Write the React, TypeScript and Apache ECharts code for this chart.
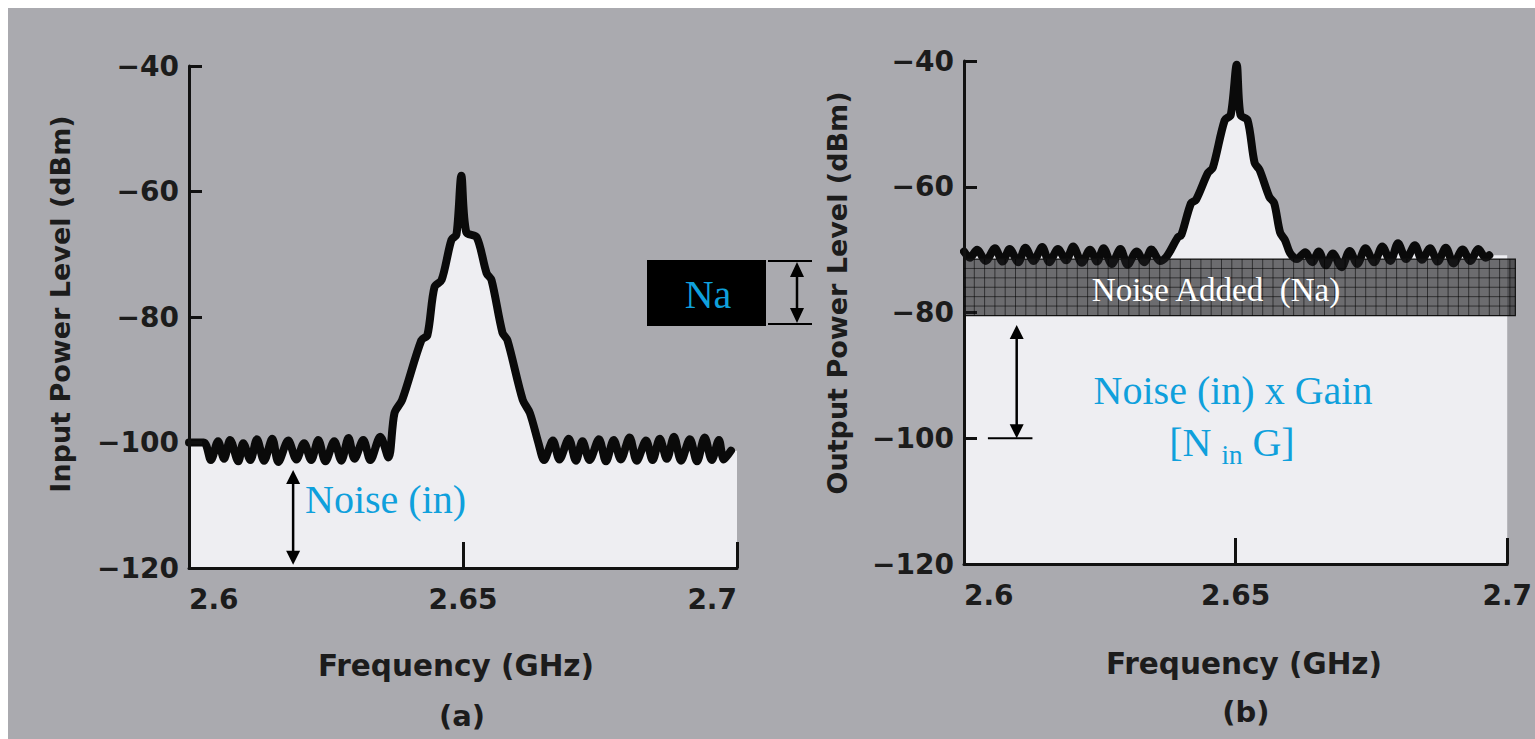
import React, { useEffect, useRef } from "react";
import * as echarts from "echarts";

// ---------- data ----------
const xTickLabels = ["2.6", "2.65", "2.7"];
const yTickLabels = ["\u2212120", "\u2212100", "\u221280", "\u221260", "\u221240"];

// (a) input spectrum: frequency (GHz) / power (dBm)
const inputFreq = [
  2.6, 2.6027, 2.604, 2.6053, 2.6064, 2.6075, 2.609, 2.6099, 2.6112, 2.6124,
  2.6137, 2.6152, 2.6163, 2.6181, 2.6196, 2.621, 2.6223, 2.6236, 2.6249, 2.6265,
  2.6278, 2.6291, 2.6302, 2.6318, 2.6331, 2.6349, 2.6364, 2.6375, 2.6389, 2.6424,
  2.6435, 2.6448, 2.6461, 2.6479, 2.6488, 2.6497, 2.6506, 2.6525, 2.6543, 2.6552,
  2.6572, 2.6581, 2.6609, 2.6622, 2.6638, 2.6648, 2.6664, 2.6676, 2.6693, 2.6706,
  2.6718, 2.6731, 2.6748, 2.6761, 2.6775, 2.6788, 2.6804, 2.6817, 2.6834, 2.6846,
  2.6859, 2.6872, 2.6885, 2.6898, 2.6914, 2.6927, 2.6941, 2.6954, 2.6967, 2.6976,
  2.6989,
];
const inputPower = [
  -100, -100, -102.8, -99.8, -102.6, -99.6, -103, -100.1, -102.8, -99.5,
  -102.9, -99.4, -103.1, -99.7, -102.7, -100.1, -102.8, -99.6, -103, -99.8,
  -102.9, -99.3, -102.6, -99.6, -102.8, -99.1, -102.4, -95.3, -93.2, -83.7,
  -82.9, -75.2, -74.1, -67.7, -66.9, -57.5, -66.5, -67.3, -73, -74.1,
  -82.5, -83.7, -93.2, -95.3, -100.2, -102.8, -99.7, -102.7, -99.4, -102.9,
  -99.8, -102.8, -99.5, -103, -99.6, -102.7, -99.2, -102.9, -99.7, -102.8,
  -99.4, -102.6, -99.1, -102.9, -99.5, -103, -99.2, -102.8, -99.6, -102.7,
  -101.3,
];

// (b) output spectrum
const outputFreq = [
  2.6, 2.6011, 2.6024, 2.604, 2.6057, 2.6071, 2.6084, 2.61, 2.6113, 2.6128,
  2.6144, 2.6157, 2.6173, 2.6188, 2.6201, 2.6217, 2.6232, 2.6245, 2.6257, 2.6272,
  2.6288, 2.6301, 2.6318, 2.6332, 2.6345, 2.6361, 2.6372, 2.6381, 2.6394, 2.64,
  2.6418, 2.6427, 2.6449, 2.6458, 2.648, 2.6491, 2.6502, 2.6509, 2.6522, 2.6535,
  2.6544, 2.6562, 2.6571, 2.6582, 2.6591, 2.66, 2.6613, 2.6628, 2.6641, 2.6653,
  2.6666, 2.6679, 2.6695, 2.671, 2.6724, 2.6739, 2.6755, 2.677, 2.6785, 2.6799,
  2.6814, 2.683, 2.6843, 2.6858, 2.6872, 2.6887, 2.6901, 2.6918, 2.6932, 2.6947,
  2.696, 2.6967,
];
const outputPower = [
  -70.3, -71.3, -70, -71.8, -69.8, -71.9, -69.9, -72, -69.7, -71.8,
  -69.6, -72, -69.9, -71.7, -69.5, -72.1, -70, -71.9, -69.8, -72.3,
  -69.9, -72.4, -70.3, -72, -70, -71.8, -71.2, -70, -68, -67.7,
  -62.6, -62.1, -57.8, -57, -49.4, -48.6, -40.6, -48.6, -49.4, -56.2,
  -57.3, -61.6, -62.6, -67.3, -68.5, -70.5, -71.5, -70.4, -72, -70.3,
  -72.5, -70.6, -72.8, -70.2, -72.3, -69.8, -72, -69.5, -71.8, -69,
  -71.5, -69.3, -71.6, -69.8, -71.9, -69.7, -72.2, -70, -71.8, -69.9,
  -71.3, -70.9,
];

// annotation anchors (data units)
const naBandPower = [-80.5, -71.5];
const naBandFreq = [2.6, 2.7015];
const noiseInArrow = { freq: 2.619, top: -104.4, bottom: -119.5 };
const gainArrow = { freq: 2.6097, top: -82, bottom: -100 };
const gainBaseLine = { from: 2.6044, to: 2.6126, level: -100 };

const BG = "#aaaaaf";
const FILL = "#eeeef2";
const BLUE = "#0fa0dc";
const INK = "#1c1c1c";

export default function App() {
  const ref = useRef<HTMLDivElement>(null);

  useEffect(() => {
    const chart = echarts.init(ref.current!, null, { renderer: "svg" });

    const inData = inputFreq.map((f, i) => [f, inputPower[i]]);
    const outData = outputFreq.map((f, i) => [f, outputPower[i]]);
    const inFill = [...inData, [2.7, inputPower[inputPower.length - 1]]];
    const outFill = [...outData, [2.7, outputPower[outputPower.length - 1]]];

    const xAxis = (gridIndex: number, alignMax: string) => ({
      type: "value",
      gridIndex,
      min: 2.6,
      max: 2.7,
      interval: 0.05,
      z: 5,
      axisLine: { show: true, onZero: false, lineStyle: { color: "#111", width: 3 } },
      axisTick: { show: true, inside: true, length: 26, lineStyle: { color: "#111", width: 3 } },
      axisLabel: {
        fontFamily: "DejaVu Sans",
        fontWeight: "bold",
        fontSize: 28,
        color: INK,
        margin: 17,
        alignMinLabel: "left",
        alignMaxLabel: alignMax,
        formatter: (_v: number, i: number) => xTickLabels[i],
      },
      splitLine: { show: false },
    });
    const yAxis = (gridIndex: number) => ({
      type: "value",
      gridIndex,
      min: -120,
      max: -40,
      interval: 20,
      z: 5,
      axisLine: { show: true, onZero: false, lineStyle: { color: "#111", width: 3 } },
      axisTick: { show: true, inside: true, length: 13, lineStyle: { color: "#111", width: 3 } },
      axisLabel: {
        fontFamily: "DejaVu Sans",
        fontWeight: "bold",
        fontSize: 28,
        color: INK,
        margin: 10,
        formatter: (_v: number, i: number) => yTickLabels[i],
      },
      splitLine: { show: false },
    });

    const fillSeries = (idx: number, data: number[][]) => ({
      type: "line",
      xAxisIndex: idx,
      yAxisIndex: idx,
      data,
      smooth: 0.3,
      showSymbol: false,
      silent: true,
      lineStyle: { width: 0, opacity: 0 },
      areaStyle: { color: FILL, opacity: 1, origin: "start" },
      z: 1,
    });
    const lineSeries = (idx: number, name: string, data: number[][]) => ({
      type: "line",
      name,
      xAxisIndex: idx,
      yAxisIndex: idx,
      data,
      smooth: 0.3,
      showSymbol: false,
      lineStyle: { color: "#0a0a0a", width: 8, join: "round", cap: "round" },
      z: 3,
    });

    chart.setOption({
      animation: false,
      backgroundColor: BG,
      grid: [
        { left: 181, top: 58, width: 548, height: 502 },
        { left: 956, top: 53, width: 548, height: 503 },
      ],
      xAxis: [xAxis(0, "right"), xAxis(1, "center")],
      yAxis: [yAxis(0), yAxis(1)],
      series: [
        fillSeries(0, inFill),
        lineSeries(0, "Input", inData),
        fillSeries(1, outFill),
        lineSeries(1, "Output", outData),
      ],
    });

    const px = (g: number, f: number, v: number) =>
      chart.convertToPixel({ gridIndex: g } as any, [f, v]) as number[];

    const vArrow = (x: number, yTop: number, yBot: number, head = 14, hw = 7, lw = 2.5) => [
      { type: "line", z: 110, shape: { x1: x, y1: yTop + head - 2, x2: x, y2: yBot - head + 2 }, style: { stroke: "#000", lineWidth: lw } },
      { type: "polygon", z: 110, shape: { points: [[x, yTop], [x - hw, yTop + head], [x + hw, yTop + head]] }, style: { fill: "#000" } },
      { type: "polygon", z: 110, shape: { points: [[x, yBot], [x - hw, yBot - head], [x + hw, yBot - head]] }, style: { fill: "#000" } },
    ];

    // Noise added band
    const b0 = px(1, naBandFreq[0], naBandPower[1]);
    const b1 = px(1, naBandFreq[1], naBandPower[0]);
    const bx = b0[0], by = b0[1], bw = b1[0] - b0[0], bh = b1[1] - b0[1];
    const bandEls: any[] = [
      { type: "rect", z: 100, shape: { x: bx, y: by, width: bw, height: bh }, style: { fill: "rgba(28,28,30,0.62)", stroke: "#111", lineWidth: 1.2 } },
    ];
    for (let gx = bx + 10.3; gx < bx + bw - 2; gx += 10.3) {
      bandEls.push({ type: "line", z: 101, shape: { x1: gx, y1: by, x2: gx, y2: by + bh }, style: { stroke: "rgba(0,0,0,0.55)", lineWidth: 1 } });
    }
    for (let gy = by + 9.4; gy < by + bh - 2; gy += 9.4) {
      bandEls.push({ type: "line", z: 101, shape: { x1: bx, y1: gy, x2: bx + bw, y2: gy }, style: { stroke: "rgba(0,0,0,0.55)", lineWidth: 1 } });
    }
    bandEls.push({
      type: "text", z: 102, x: 1208, y: by + bh / 2 + 3,
      style: { text: "Noise Added  (Na)", fontFamily: "Liberation Serif", fontSize: 33, fill: "#ffffff", align: "center", verticalAlign: "middle" },
    });

    const a1t = px(0, noiseInArrow.freq, noiseInArrow.top);
    const a1b = px(0, noiseInArrow.freq, noiseInArrow.bottom);
    const a2t = px(1, gainArrow.freq, gainArrow.top);
    const a2b = px(1, gainArrow.freq, gainArrow.bottom);
    const l0 = px(1, gainBaseLine.from, gainBaseLine.level);
    const l1 = px(1, gainBaseLine.to, gainBaseLine.level);

    const titleStyle = { fontFamily: "DejaVu Sans", fontWeight: "bold", fill: INK, align: "center", verticalAlign: "middle" };

    chart.setOption({
      graphic: [
        ...bandEls,
        ...vArrow(a1t[0], a1t[1], a1b[1]),
        ...vArrow(a2t[0], a2t[1], a2b[1]),
        { type: "line", z: 110, shape: { x1: l0[0], y1: l0[1], x2: l1[0], y2: l1[1] }, style: { stroke: "#000", lineWidth: 2 } },
        // Na key box
        { type: "rect", z: 110, shape: { x: 639, y: 252, width: 119, height: 66 }, style: { fill: "#000" } },
        { type: "text", z: 111, x: 700, y: 286, style: { text: "Na", fontFamily: "Liberation Serif", fontSize: 40, fill: BLUE, align: "center", verticalAlign: "middle" } },
        { type: "line", z: 110, shape: { x1: 760, y1: 253, x2: 804, y2: 253 }, style: { stroke: "#000", lineWidth: 2 } },
        { type: "line", z: 110, shape: { x1: 760, y1: 316, x2: 804, y2: 316 }, style: { stroke: "#000", lineWidth: 2 } },
        ...vArrow(789, 254, 315, 15, 7, 2.5),
        // annotations
        { type: "text", z: 111, x: 297, y: 491, style: { text: "Noise (in)", fontFamily: "Liberation Serif", fontSize: 40, fill: BLUE, align: "left", verticalAlign: "middle" } },
        { type: "text", z: 111, x: 1225, y: 382, style: { text: "Noise (in) x Gain", fontFamily: "Liberation Serif", fontSize: 40, fill: BLUE, align: "center", verticalAlign: "middle" } },
        {
          type: "text", z: 111, x: 1224, y: 434,
          style: {
            text: "[N {sub|in} G]", fontFamily: "Liberation Serif", fontSize: 40, fill: BLUE, align: "center", verticalAlign: "middle",
            rich: { sub: { fontFamily: "Liberation Serif", fontSize: 27, fill: BLUE, verticalAlign: "bottom", padding: [0, 0, -6, 0] } },
          },
        },
        // axis titles
        { type: "text", x: 52, y: 296, rotation: Math.PI / 2, style: { ...titleStyle, text: "Input Power Level (dBm)", fontSize: 27 } },
        { type: "text", x: 829, y: 285, rotation: Math.PI / 2, style: { ...titleStyle, text: "Output Power Level (dBm)", fontSize: 27 } },
        { type: "text", x: 448, y: 658, style: { ...titleStyle, text: "Frequency (GHz)", fontSize: 29.5 } },
        { type: "text", x: 1236, y: 656, style: { ...titleStyle, text: "Frequency (GHz)", fontSize: 29.5 } },
        { type: "text", x: 454, y: 708, style: { ...titleStyle, text: "(a)", fontSize: 29 } },
        { type: "text", x: 1238, y: 704, style: { ...titleStyle, text: "(b)", fontSize: 29 } },
      ],
    });

    return () => chart.dispose();
  }, []);

  return (
    <div
      ref={ref}
      style={{ position: "absolute", left: 8, top: 8, width: 1527, height: 731 }}
    />
  );
}
